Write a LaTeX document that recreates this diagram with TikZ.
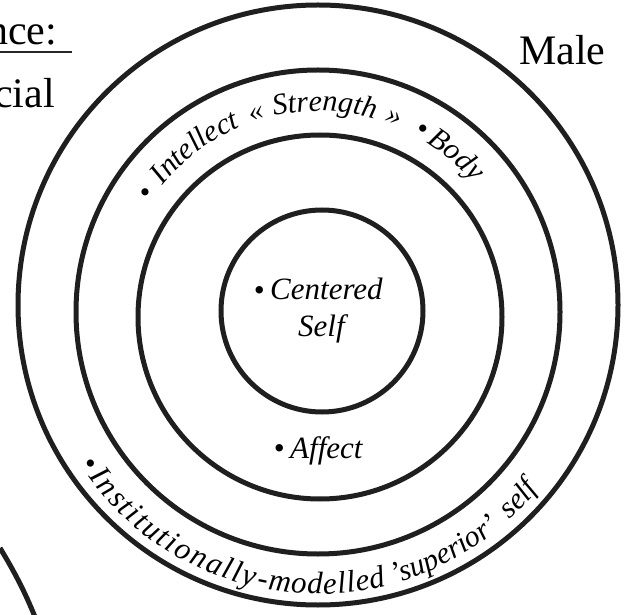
\documentclass[tikz,border=0pt]{standalone}
\usepackage{fontspec}
\setmainfont{Liberation Serif}
\usetikzlibrary{decorations.text}
\newcommand\curvefont{\fontsize{30}{36}\selectfont\itshape}
\newcommand\widefont{\fontsize{31}{36}\selectfont\itshape}
\newcommand\labfont{\fontsize{31}{36}\selectfont\itshape}
\newcommand\bigfont{\fontsize{42}{48}\selectfont}
\def\topr{201}
\def\botr{284}
% texts centred on an angle
\newcommand\toptext[2]{\path[decorate,decoration={text along path,text={|\curvefont|#2},text align=center}]
  ([shift={(#1+40:\topr)}]tc) arc[start angle=#1+40,end angle=#1-40,radius=\topr];}
\newcommand\bottext[2]{\path[decorate,decoration={text along path,text={|\curvefont|#2},text align=center}]
  ([shift={(#1-40:\botr)}]bc) arc[start angle=#1-40,end angle=#1+40,radius=\botr];}
% words spread from one angle to another
\newcommand\botword[3]{\path[decorate,decoration={text along path,text={|\widefont|#3},text align=fit to path}]
  ([shift={(#1:\botr)}]bc) arc[start angle=#1,end angle=#2,radius=\botr];}
\begin{document}
\begin{tikzpicture}[x=1pt,y=1pt,
  ring/.style={draw=black!88,line width=5pt},
  lab/.style={inner sep=0pt,font=\labfont},
  big/.style={inner sep=0pt,font=\bigfont}]
\useasboundingbox (0,0) rectangle (624,614);
\clip (0,0) rectangle (624,614);
% ring centres
\coordinate (oc) at (318,309);
\coordinate (c3) at (318,302);
\coordinate (c2) at (320,297);
\coordinate (c1) at (322,303);
\coordinate (tc) at (319,302);
\coordinate (bc) at (318,304);
% rings
\draw[ring] (oc) circle[radius=300];
\draw[ring] (c3) circle[radius=242];
\draw[ring] (c2) circle[radius=182];
\draw[ring] (c1) circle[radius=101];
% part of the neighbouring diagram
\draw[ring] (0,66) .. controls (14,43) and (25,22) .. (35,-3);
% cut-off texts on the left
\node[big,anchor=base west] (nce) at (-13,569) {nce:};
\draw[line width=1.4pt,black!85] (0,562) -- (72,562);
\node[big,anchor=base west] (cial) at (-6,506) {cial};
\node[big,anchor=base west] (male) at (519,549) {Male};
% centre labels
\node[lab] (b1) at (259,320) {•};
\node[lab,anchor=base west] (centered) at (270,314) {Centered};
\node[lab,anchor=base west] (self) at (298,277) {Self};
\node[lab] (b2) at (279,162) {•};
\node[lab,anchor=base west] (affect) at (290,156) {Affect};
% upper band
\toptext{145.5}{•}
\toptext{127}{Intellect}
\toptext{107.5}{«}
\toptext{88.4}{Strength}
\toptext{69}{»}
\toptext{60.5}{•}
\toptext{48.8}{Body}
% lower band
\bottext{214}{•}
\botword{216}{257}{Institutionally}
\botword{257.5}{284}{-modelled}
\bottext{297.6}{'superior'}
\bottext{316.6}{self}
\end{tikzpicture}
\end{document}
